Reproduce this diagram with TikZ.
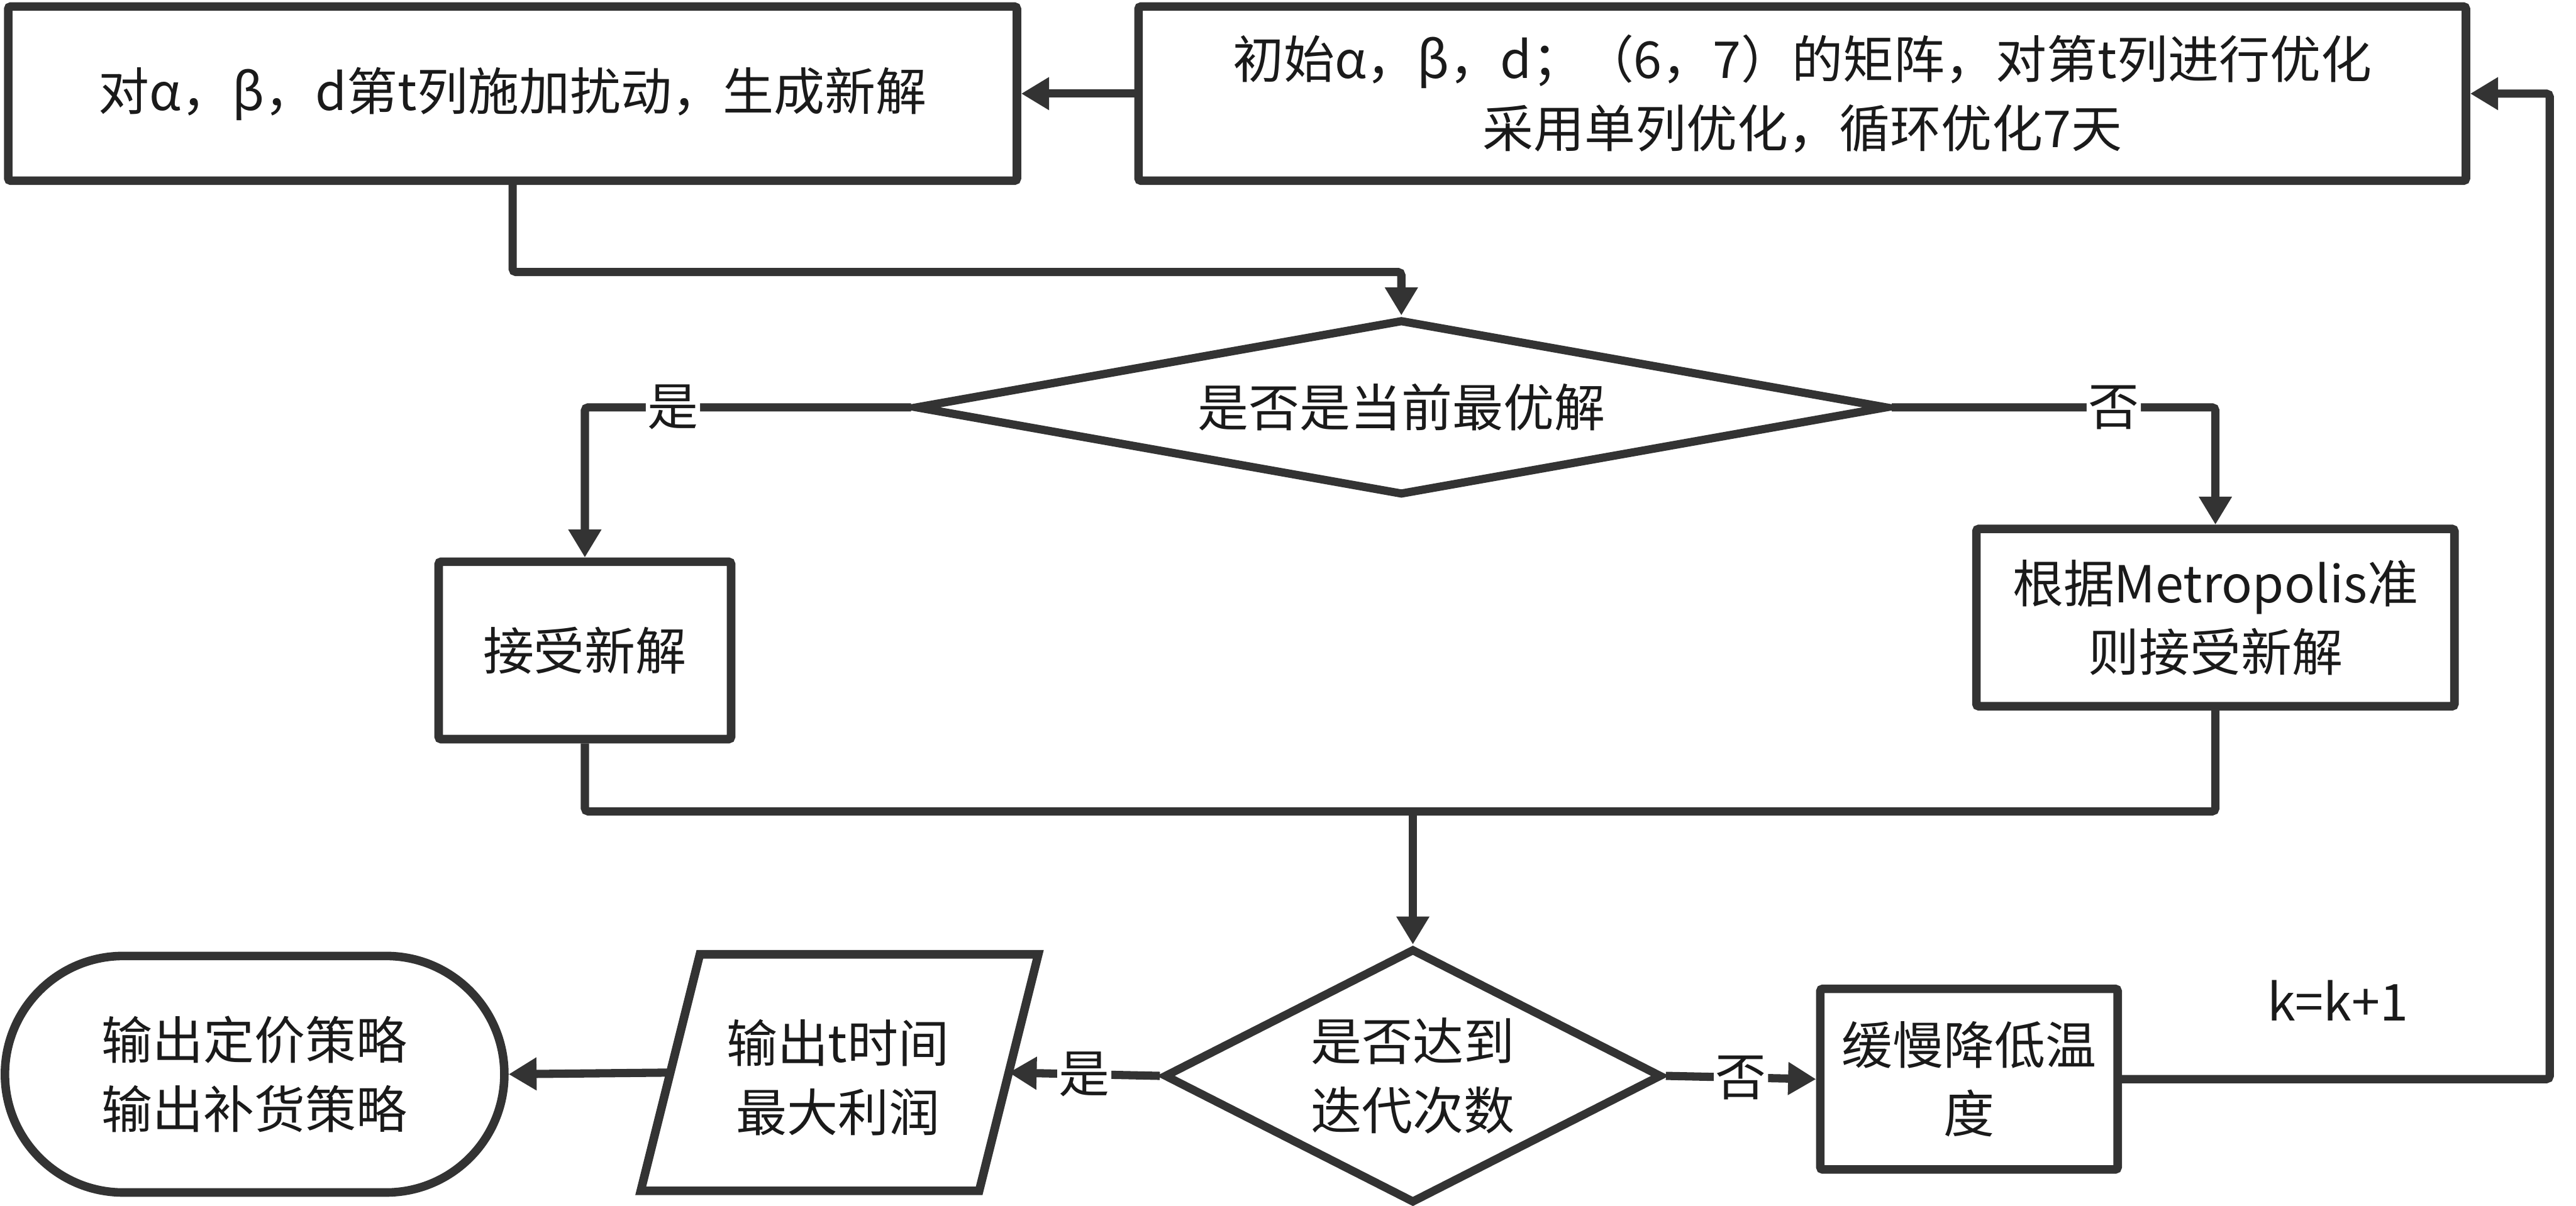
\documentclass[tikz,border=0pt]{standalone}
\usepackage{fontspec}
\setmainfont{Noto Sans CJK SC}
\usetikzlibrary{arrows.meta,shapes.geometric}
\definecolor{ln}{HTML}{333333}
\definecolor{tx}{HTML}{1A1A1A}
\begin{document}
\begin{tikzpicture}[x=1pt,y=-1pt,
  every node/.style={text=tx, font=\fontsize{31}{42}\selectfont, align=center},
  box/.style={draw=ln, line width=5.2pt, rectangle, inner sep=0pt, rounded corners=1.5pt},
  dia/.style={draw=ln, line width=5pt, diamond, inner sep=0pt},
  conn/.style={draw=ln, line width=5pt, rounded corners=2pt},
  arr/.style={conn, -{Triangle[length=17pt,width=19pt]}},
  lbl/.style={fill=white, inner sep=1pt}]
\useasboundingbox (0,0) rectangle (1568,734);
% nodes
\node[box, minimum width=614pt, minimum height=106pt] (b1) at (312,57) {对α，β，d第t列施加扰动，生成新解};
\node[box, minimum width=808pt, minimum height=106pt] (b2) at (1097,57) {初始α，β，d；（6，7）的矩阵，对第t列进行优化\\采用单列优化，循环优化7天};
\node[dia, minimum width=592pt, minimum height=107pt, shape aspect=5.5] (d1) at (853,248) {是否是当前最优解};
\node[box, minimum width=178pt, minimum height=108pt] (b3) at (356,396) {接受新解};
\node[box, minimum width=291pt, minimum height=108pt] (b4) at (1348.5,376) {根据Metropolis准\\则接受新解};
\node[dia, minimum width=303pt, minimum height=155pt, shape aspect=2] (d2) at (860,655) {是否达到\\迭代次数};
\node[box, minimum width=181pt, minimum height=110pt] (b5) at (1198.5,657) {缓慢降低温\\度};
\node[box, rounded corners=72pt, minimum width=304pt, minimum height=144pt] (st) at (155,654) {输出定价策略\\输出补货策略};
% parallelogram
\draw[draw=ln, line width=5.2pt, line join=miter] (426,581) -- (632,581) -- (596,725) -- (390,725) -- cycle;
\node (p) at (510,656) {输出t时间\\最大利润};
\coordinate (pR) at (614,653);
\coordinate (pL) at (408,653);
% connectors
\draw[arr] (b2.west) -- (b1.east);
\draw[arr] (b1.south) -- ++(0,53) -| (d1.north);
\draw[arr] (d1.west) -| node[lbl, pos=0.365] (l1) {是} (b3.north);
\draw[arr] (d1.east) -| node[lbl, pos=0.343] (l2) {否} (b4.north);
\coordinate (m) at (860,494);
\draw[conn] (b3.south) |- (m) -| (b4.south);
\draw[arr] (m) -- (d2.north);
\draw[arr] (d2.west) -- node[lbl] (l3) {是} (pR);
\draw[arr] (pL) -- (st.east);
\draw[arr] (d2.east) -- node[lbl] (l4) {否} (b5.west);
\coordinate (rc) at (1552,657);
\draw[arr] (b5.east) -- (rc) |- (b2.east);
\node (kk) at (1423,609) {k=k+1};
\end{tikzpicture}
\end{document}
